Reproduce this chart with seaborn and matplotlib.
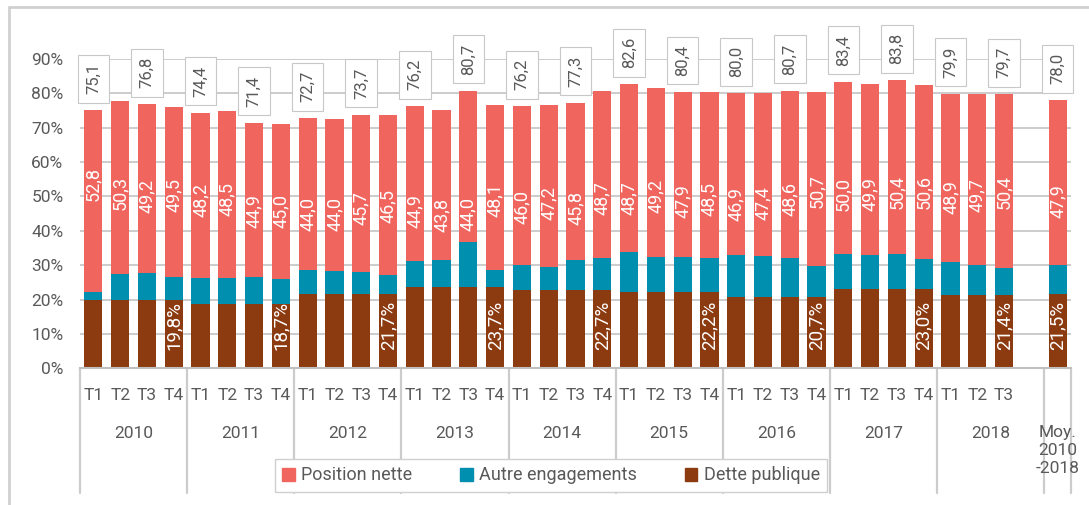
import numpy as np
import pandas as pd
import matplotlib
matplotlib.use("Agg")
import matplotlib.pyplot as plt
import matplotlib.transforms as mtransforms
from matplotlib.lines import Line2D
from matplotlib.patches import Patch
import seaborn as sns

# ---- data ----
years = ["2010", "2011", "2012", "2013", "2014", "2015", "2016", "2017", "2018"]
quarters = ["T1", "T2", "T3", "T4"]
n_quarters = [4, 4, 4, 4, 4, 4, 4, 4, 3]

dette_annual = [19.8, 18.7, 21.7, 23.7, 22.7, 22.2, 20.7, 23.0, 21.4]
autre = [2.5, 7.6, 7.8, 6.7,
         7.5, 7.6, 7.8, 7.4,
         7.0, 6.7, 6.3, 5.5,
         7.6, 7.8, 13.0, 4.8,
         7.5, 6.7, 8.8, 9.4,
         11.7, 10.1, 10.3, 9.8,
         12.4, 12.1, 11.4, 9.1,
         10.4, 9.9, 10.4, 8.9,
         9.6, 8.8, 7.9]
position = [52.8, 50.3, 49.2, 49.5,
            48.2, 48.5, 44.9, 45.0,
            44.0, 44.0, 45.7, 46.5,
            44.9, 43.8, 44.0, 48.1,
            46.0, 47.2, 45.8, 48.7,
            48.7, 49.2, 47.9, 48.5,
            46.9, 47.4, 48.6, 50.7,
            50.0, 49.9, 50.4, 50.6,
            48.9, 49.7, 50.4]
moy_label = "Moy.\n2010\n-2018"
moy_dette, moy_autre, moy_position = 21.5, 8.6, 47.9

c_pos = "#F0665E"
c_autre = "#008FAF"
c_dette = "#8C3A0F"
grey_txt = "#595959"
grey_line = "#cccccc"

# ---- build table ----
cats, dette, qlab = [], [], []
for y, n, d in zip(years, n_quarters, dette_annual):
    for q in quarters[:n]:
        cats.append(f"{y} {q}")
        qlab.append(q)
        dette.append(d)
cats.append("Moy")
dette.append(moy_dette)
autre_all = autre + [moy_autre]
pos_all = position + [moy_position]

df = pd.DataFrame({"cat": cats, "dette": dette, "autre": autre_all, "position": pos_all})
df["mid"] = df["dette"] + df["autre"]
df["total"] = (df["mid"] + df["position"]).round(1)
order = cats[:-1] + ["gap"] + ["Moy"]
slot = {c: order.index(c) for c in cats}

sns.set_theme(style="white")
plt.rcParams["font.family"] = ["Roboto", "DejaVu Sans"]

fig = plt.figure(figsize=(10.89, 5.05), dpi=100)
ax = fig.add_axes([80 / 1089, 136.7 / 505, 991 / 1089, 309.3 / 505])

# stacked bars via overlapping cumulative bars
kw = dict(data=df, x="cat", order=order, width=0.68, saturation=1,
          linewidth=0, ax=ax, zorder=2)
sns.barplot(y="total", color=c_pos, **kw)
sns.barplot(y="mid", color=c_autre, **kw)
sns.barplot(y="dette", color=c_dette, **kw)

ax.set_xlim(-0.5, len(order) - 0.5)
ax.set_ylim(0, 90)
ax.set_yticks(np.arange(0, 91, 10))
ax.set_yticklabels([f"{v}%" for v in range(0, 91, 10)])
ax.tick_params(axis="y", length=0, pad=12, labelsize=12.5, colors=grey_txt)
ax.set_xticks([])
ax.set_xlabel("")
ax.set_ylabel("")
ax.yaxis.grid(True, color=grey_line, linewidth=1.4, zorder=0)
ax.set_axisbelow(True)
for s in ["top", "right", "left"]:
    ax.spines[s].set_visible(False)
ax.spines["bottom"].set_color("#c0c0c0")
ax.spines["bottom"].set_linewidth(1.5)

def fmt(v):
    return f"{v:.1f}".replace(".", ",")

# labels
for _, r in df.iterrows():
    i = slot[r["cat"]]
    ax.text(i, r["position"] + 0.8, fmt(r["position"]), rotation=90, ha="center",
            va="center", color="white", fontsize=13, zorder=4)
    if i % 2 == 0:
        ax.annotate(fmt(r["total"]), (i, r["total"]), xytext=(0, 11.5),
                    textcoords="offset points", rotation=90, ha="center", va="bottom",
                    fontsize=12, color=grey_txt, annotation_clip=False, zorder=5,
                    bbox=dict(boxstyle="square,pad=0.5", fc="white", ec="#c8c8c8", lw=0.8))

dette_idx = [slot[c] for c in cats if c.endswith("T4")] + [slot["2018 T3"], slot["Moy"]]
for _, r in df.iterrows():
    i = slot[r["cat"]]
    if i in dette_idx:
        ax.text(i, 5.4, fmt(r["dette"]) + "%", rotation=90, ha="center", va="bottom",
                color="white", fontsize=13.5, zorder=4)

# multi-level category axis
trans = mtransforms.blended_transform_factory(ax.transData, ax.transAxes)
ax_h = 309.3
for c, q in zip(cats[:-1], qlab):
    ax.text(slot[c], -(395 - 368.3) / ax_h, q, ha="center", va="center",
            fontsize=12.5, color=grey_txt, transform=trans)
start = 0
for y, n in zip(years, n_quarters):
    ax.text(start + 1.5, -(433 - 368.3) / ax_h, y, ha="center", va="center",
            fontsize=12.5, color=grey_txt, transform=trans)
    start += 4
ax.text(slot["Moy"], -(425 - 368.3) / ax_h, moy_label, ha="center", va="top",
        fontsize=12.5, color=grey_txt, linespacing=1.25, transform=trans)

bounds = [-0.5 + 4 * k for k in range(10)] + [len(order) - 0.5]
y_low = -(493 - 368.3) / ax_h
for b in bounds:
    ax.plot([b, b], [0, y_low], color=grey_line, lw=1.6, transform=trans,
            clip_on=False, zorder=1)

# legend
handles = [Patch(color=c_pos, label="Position nette"),
           Patch(color=c_autre, label="Autre engagements"),
           Patch(color=c_dette, label="Dette publique")]
leg = fig.legend(handles=handles, ncol=3, loc="center", mode="expand",
                 bbox_to_anchor=(275 / 1089, 11 / 505, 552 / 1089, 37 / 505),
                 frameon=True, fancybox=False, framealpha=1, edgecolor="#cfcfcf",
                 fontsize=13, handlelength=0.7, handleheight=0.7,
                 handletextpad=0.35, borderpad=0.4, borderaxespad=0)
leg.get_frame().set_linewidth(1.0)
for t in leg.get_texts():
    t.set_color(grey_txt)

# outer frame
fig.add_artist(Line2D([8.5 / 1089, 8.5 / 1089], [0, 1 - 6.5 / 505],
                      transform=fig.transFigure, color="#d0d0d0", lw=2))
fig.add_artist(Line2D([8.5 / 1089, 1], [1 - 6.5 / 505, 1 - 6.5 / 505],
                      transform=fig.transFigure, color="#d0d0d0", lw=2))

fig.savefig("out.png", dpi=100)
